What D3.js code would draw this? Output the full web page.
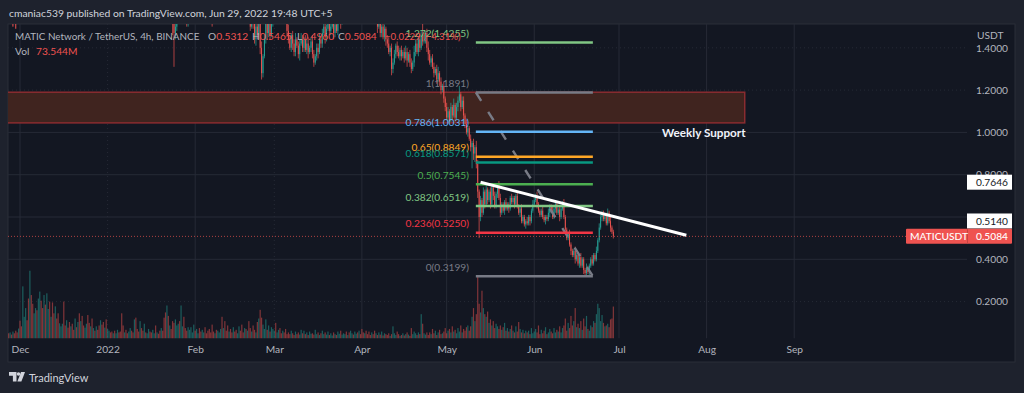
<!DOCTYPE html>
<html><head><meta charset="utf-8">
<script src="https://cdn.jsdelivr.net/npm/d3@7"></script>
<style>html,body{margin:0;padding:0;background:#1e222d;overflow:hidden}svg{display:block}text{font-family:Lato,"Open Sans",sans-serif}</style>
</head><body><svg id="c" width="1024" height="393"></svg>
<script>
const publishLine = "cmaniac539 published on TradingView.com, Jun 29, 2022 19:48 UTC+5";
const symbolName = "MATIC Network / TetherUS, 4h, BINANCE";
const ohlcLabels = ["O","H","L","C"];
const ohlcValues = ["0.5312","0.5465","0.4960","0.5084"];
const changeText = "−0.0229 (−4.31%)";
const volumeText = "73.544M";
const priceTicks = [0.2,0.4,0.6,0.8,1.0,1.2,1.4];
const monthDates = ["2021-12-01","2022-01-01","2022-02-01","2022-03-01","2022-04-01","2022-05-01","2022-06-01","2022-07-01","2022-08-01","2022-09-01"];
const monthLabels = ["Dec","2022","Feb","Mar","Apr","May","Jun","Jul","Aug","Sep"];
const fibRatios = ["1.272","1","0.786","0.65","0.618","0.5","0.382","0.236","0"];
const fibPrices = [1.4255,1.1891,1.0031,0.8849,0.8571,0.7545,0.6519,0.5250,0.3199];
const fibColors = ["#81c784","#787b86","#64b5f6","#ffa726","#089981","#4caf50","#81c784","#f23645","#787b86"];
const fibStartDate = "2022-05-11T08:00Z", fibEndDate = "2022-06-21T18:00Z";
const zonePrices = [1.19,1.045], zoneDates = ["2021-11-20","2022-08-14T12:00Z"];
const trendDates = ["2022-05-13","2022-07-24T20:00Z"], trendPrices = [0.7646,0.5140];
const lastPrice = 0.5084;
const extraWickDates = ["2021-11-28T12:00Z","2021-11-29T12:00Z"], extraWickLows = [1.50,1.49];

// 12-hour candles from 20 Jan 2022 (prices above about 1.51 run off the top of the pane)
const candleStart = "2022-01-20";
const closes = [
1.72,1.68,1.66,1.60,1.64,1.58,1.62,1.56,1.52,1.47,
1.50,1.55,1.60,1.56,1.62,1.66,1.60,1.58,1.52,1.60,
1.66,1.70,1.72,1.75,1.70,1.78,1.82,1.80,1.76,1.84,
1.88,1.84,1.80,1.78,1.72,1.70,1.66,1.62,1.64,1.58,
1.62,1.68,1.72,1.70,1.76,1.74,1.70,1.68,1.72,1.70,
1.66,1.70,1.68,1.64,1.66,1.72,1.68,1.64,1.60,1.62,
1.60,1.64,1.58,1.50,1.56,1.52,1.44,1.50,1.46,1.53,
1.40,1.28,1.36,1.44,1.52,1.47,1.56,1.46,1.52,1.58,
1.62,1.60,1.64,1.68,1.62,1.60,1.66,1.60,1.56,1.48,
1.44,1.40,1.46,1.42,1.38,1.44,1.41,1.37,1.42,1.44,
1.40,1.44,1.39,1.42,1.38,1.40,1.43,1.37,1.33,1.36,
1.40,1.38,1.44,1.42,1.47,1.50,1.45,1.49,1.52,1.48,
1.50,1.53,1.47,1.51,1.48,1.54,1.58,1.52,1.56,1.62,
1.66,1.62,1.70,1.68,1.72,1.76,1.70,1.74,1.78,1.72,
1.76,1.72,1.70,1.66,1.70,1.68,1.64,1.62,1.58,1.62,
1.58,1.54,1.56,1.50,1.53,1.47,1.50,1.45,1.49,1.44,
1.42,1.38,1.40,1.30,1.33,1.37,1.41,1.38,1.36,1.39,
1.36,1.38,1.35,1.38,1.34,1.37,1.33,1.30,1.33,1.38,
1.42,1.38,1.44,1.40,1.46,1.43,1.44,1.47,1.40,1.37,
1.33,1.35,1.31,1.28,1.30,1.25,1.28,1.24,1.20,1.22,
1.16,1.12,1.07,1.10,1.06,1.12,1.08,1.13,1.07,1.12,
1.15,1.18,1.12,1.15,1.08,1.04,1.00,1.02,0.97,0.93,
0.95,0.90,0.93,0.85,0.72,0.60,0.68,0.62,0.72,0.66,
0.73,0.68,0.72,0.66,0.74,0.70,0.65,0.71,0.75,0.69,
0.62,0.66,0.63,0.67,0.64,0.66,0.64,0.69,0.67,0.69,
0.66,0.70,0.65,0.62,0.64,0.58,0.60,0.565,0.58,0.57,
0.60,0.58,0.63,0.66,0.68,0.70,0.66,0.63,0.61,0.63,
0.60,0.585,0.60,0.59,0.62,0.65,0.63,0.60,0.64,0.66,
0.62,0.635,0.60,0.64,0.665,0.60,0.54,0.50,0.52,0.47,
0.44,0.42,0.44,0.40,0.42,0.38,0.41,0.37,0.40,0.35,
0.335,0.36,0.34,0.37,0.40,0.38,0.42,0.40,0.44,0.49,
0.55,0.60,0.62,0.59,0.61,0.57,0.62,0.58,0.55,0.53,
0.5084];
// wick lengths beyond the candle body, in hundredths of a dollar
const upperWicks = [
3,2,2,3,1,2,3,2,1,2,
2,1,2,3,2,1,2,2,3,2,
2,1,3,2,1,2,2,3,1,2,
1,2,3,2,2,1,2,3,1,2,
2,1,2,3,2,2,1,3,2,1,
2,3,1,2,2,3,2,1,2,2,
3,1,2,2,3,2,1,2,3,2,
2,3,1,2,3,2,2,1,3,2,
2,1,2,3,1,2,3,2,2,1,
3,2,1,2,2,3,1,2,2,3,
2,1,2,2,3,1,2,3,2,1,
2,2,3,1,2,2,3,2,1,2,
3,1,2,2,3,2,1,2,2,3,
1,2,2,3,2,1,2,3,2,2,
1,3,2,2,1,2,3,2,1,2,
3,2,1,2,2,3,1,2,2,1,
2,3,1,2,2,2,1,2,3,1,
2,1,2,3,2,1,2,2,1,3,
2,2,1,3,2,8,2,1,2,3,
2,1,2,2,1,2,3,1,2,1,
2,1,2,2,1,2,1,3,1,2,
2,4,1,2,2,1,2,1,1,2,
1,2,1,3,2,1,2,1,2,1,
2,1,1,2,1,1,2,1,1,2,
2,1,1,1,2,1,1,1,2,1,
1,1,2,1,1,2,1,1,1,2,
1,1,1,2,1,1,2,1,1,1,
2,1,1,1,2,1,1,2,1,1,
1,1,2,1,1,2,1,1,1,2,
1,1,1,2,1,1,1,2,1,1,
1,2,1,1,1,2,1,1,2,1,
2,1,1,1,1,1,2,1,2,1,
1];
const lowerWicks = [
2,3,1,2,2,3,1,2,6,16,
3,2,1,2,3,2,1,3,2,2,
1,2,3,1,2,2,3,1,2,2,
3,1,2,2,1,3,16,2,2,3,
1,2,2,3,1,2,2,1,3,2,
2,1,3,2,2,1,2,3,2,1,
2,3,2,2,1,3,2,3,2,2,
3,3,2,1,2,3,2,2,1,2,
3,2,1,2,2,3,1,2,2,3,
2,1,2,3,2,2,1,2,3,1,
2,2,1,2,3,1,2,2,2,1,
2,3,1,2,2,1,3,2,1,2,
2,1,3,2,1,2,2,3,1,2,
2,3,1,2,1,2,3,2,2,1,
2,1,3,2,2,1,2,1,3,2,
1,2,2,3,1,2,2,1,2,3,
2,1,2,3,2,1,2,2,1,2,
2,1,2,1,3,1,2,2,1,2,
2,1,2,2,1,2,1,2,2,3,
1,2,1,2,1,2,1,2,2,1,
2,2,1,2,1,1,2,1,2,1,
2,1,2,1,2,2,1,2,1,2,
10,3,4,2,3,10,2,2,1,2,
1,2,1,2,1,2,1,1,2,1,
2,1,1,2,1,1,2,1,1,1,
2,1,1,1,2,1,1,1,2,1,
1,2,1,1,1,1,2,1,1,1,
1,1,2,1,1,2,1,1,1,2,
1,1,2,1,1,1,2,1,1,1,
2,1,1,2,1,1,2,1,1,2,
1,1,1,2,1,1,1,1,1,1,
1,1,2,1,1,1,1,1,2,1,
1];
// 12-hour volume in millions, from 27 Nov 2021
const volumeStart = "2021-11-27";
const earlyVolumes = [
12,14,9,16,12,18,14,23,41,28,
120,50,70,42,92,156,100,80,58,70,
65,92,108,87,70,100,78,104,68,85,
50,83,58,74,46,58,35,28,34,85,
30,42,25,38,28,34,20,46,26,38,
58,40,52,30,25,34,54,36,28,46,
24,18,28,20,30,42,32,38,25,44,
22,18,14,16,12,18,12,20,14,16,
58,30,14,20,12,16,24,18,14,44,
48,22,16,40,24,18,34,14,12,22,
16,14,20,12,30,14,11,18];
const earlyVolumeSides = "dududddudd"+"uuuddudduu"+"duudduduud"+"uddudduuud"+"dudduddudu"+"dudduuddud"+"ududduddud"+"uudduduudd"+"ddudduuddu"+"dddudduduu"+"dduududd";
const candleVolumes = [
24,18,48,60,76,52,30,22,40,36,
44,30,34,40,76,28,50,24,18,26,
20,26,14,32,18,22,12,24,16,20,
14,26,12,18,22,14,32,16,12,20,
18,14,22,50,24,40,18,30,16,22,
14,26,16,20,12,28,18,32,14,24,
22,18,40,24,16,30,20,14,38,46,
66,48,32,22,44,20,30,16,26,22,
18,36,14,20,24,12,18,14,22,10,
14,10,18,12,8,16,10,14,9,20,
12,18,10,14,8,16,11,12,9,20,
10,14,8,12,18,10,14,9,16,8,
12,7,14,10,8,16,11,18,9,12,
10,16,8,14,18,12,9,16,11,14,
18,10,22,14,12,18,10,16,8,14,
10,18,12,8,14,9,16,7,12,10,
8,12,6,10,28,12,8,16,10,6,
8,12,7,10,14,9,6,24,10,16,
12,8,14,10,56,34,12,9,14,8,
14,10,22,12,18,8,14,20,10,12,
16,24,12,18,22,14,28,16,20,12,
24,16,30,14,22,18,26,30,18,28,
50,70,40,56,146,80,60,110,70,56,
50,62,36,44,30,40,24,34,28,22,
30,20,26,36,18,24,16,22,30,18,
14,28,16,38,22,14,20,12,18,14,
18,10,24,12,16,22,14,30,10,20,
12,18,26,10,14,22,16,12,24,14,
20,16,28,14,24,30,46,18,36,24,
52,30,40,70,26,34,24,40,20,46,
28,52,22,18,30,26,40,36,56,80,
70,40,54,36,28,30,34,26,44,46,
73.544];

const svg = d3.select("#c");
const BG = "#131722", TXT = "#b2b5be", UP = "#26a69a", DOWN = "#ef5350";
const L = 8, R = 1015, T = 24, B = 362, AX = 967, BASE = 338.5;
const FS = 10.2;

const x = d3.scaleUtc().domain([new Date("2021-12-01"), new Date("2022-07-01")]).range([20, 619]);
const y = d3.scaleLinear().domain([0.2, 1.4]).range([301.6, 47.8]);
const yv = d3.scaleLinear().domain([0, 145]).range([BASE, BASE - 63]);

svg.append("rect").attr("width",1024).attr("height",393).attr("fill","#1e222d");
svg.append("rect").attr("x",L).attr("y",T).attr("width",R-L).attr("height",B-T).attr("fill",BG).attr("stroke","#2a2e39").attr("stroke-width",1);
svg.append("defs").append("clipPath").attr("id","plot").append("rect").attr("x",L).attr("y",T).attr("width",AX-L).attr("height",BASE-T);
const plot = svg.append("g").attr("clip-path","url(#plot)");

// grid
const dottedPrices = [0.2,1.2,1.4], dottedMonths = ["2022","Mar"];
plot.selectAll(".gy").data(priceTicks).join("line").attr("x1",L).attr("x2",AX).attr("y1",d=>y(d)).attr("y2",d=>y(d))
  .attr("stroke","#262a36").attr("stroke-dasharray",d=>dottedPrices.includes(d)?"1 3":null);
plot.selectAll(".gx").data(monthDates).join("line").attr("x1",d=>x(new Date(d))).attr("x2",d=>x(new Date(d))).attr("y1",T).attr("y2",BASE)
  .attr("stroke","#262a36").attr("stroke-dasharray",(d,i)=>dottedMonths.includes(monthLabels[i])?"1 3":null);

// resistance zone
plot.append("rect").attr("x",x(new Date(zoneDates[0]))).attr("width",x(new Date(zoneDates[1]))-x(new Date(zoneDates[0])))
  .attr("y",y(zonePrices[0])).attr("height",y(zonePrices[1])-y(zonePrices[0]))
  .attr("fill","#40241f").attr("stroke","#8a2c30").attr("stroke-width",1.5);

// volume
const earlyBars = earlyVolumes.map((v,i)=>({t:d3.utcHour.offset(new Date(volumeStart),12*i),v,up:earlySide(i)}));
function earlySide(i){return earlyVolumeSides[i]==="u";}
const candles = closes.map((c,i)=>{
  const o = i?closes[i-1]:c;
  return {t:d3.utcHour.offset(new Date(candleStart),12*i),o,c,h:Math.max(o,c)+upperWicks[i]/100,l:Math.min(o,c)-lowerWicks[i]/100,v:candleVolumes[i],up:c>=o};
});
plot.selectAll(".v").data(earlyBars.concat(candles)).join("rect")
  .attr("x",d=>x(d.t)-0.6).attr("width",1.2).attr("y",d=>yv(d.v)).attr("height",d=>BASE-yv(d.v))
  .attr("fill",d=>d.up?UP:DOWN).attr("fill-opacity",0.5);

// candles
plot.selectAll(".xw").data(extraWickDates).join("line").attr("x1",d=>x(new Date(d))).attr("x2",d=>x(new Date(d)))
  .attr("y1",T).attr("y2",(d,i)=>y(extraWickLows[i])).attr("stroke",DOWN);
plot.selectAll(".w").data(candles).join("line").attr("x1",d=>x(d.t)).attr("x2",d=>x(d.t)).attr("y1",d=>y(d.h)).attr("y2",d=>y(d.l))
  .attr("stroke",d=>d.up?UP:DOWN).attr("stroke-width",0.7);
plot.selectAll(".b").data(candles).join("rect").attr("x",d=>x(d.t)-0.45).attr("width",0.9)
  .attr("y",d=>y(Math.max(d.o,d.c))).attr("height",d=>Math.max(0.7,Math.abs(y(d.o)-y(d.c))))
  .attr("fill",d=>d.up?UP:DOWN);

// last price line
plot.append("line").attr("x1",L).attr("x2",AX).attr("y1",y(lastPrice)).attr("y2",y(lastPrice)).attr("stroke","#ef5350").attr("stroke-opacity",0.7).attr("stroke-dasharray","1 2");

// fib retracement
const fx0 = x(new Date(fibStartDate)), fx1 = x(new Date(fibEndDate));
plot.append("line").attr("x1",fx0).attr("x2",fx1).attr("y1",y(fibPrices[1])).attr("y2",y(fibPrices[8]))
  .attr("stroke","#787b86").attr("stroke-width",2.4).attr("stroke-dasharray","10 13");
plot.selectAll(".f").data(fibPrices).join("line").attr("x1",fx0).attr("x2",fx1).attr("y1",d=>y(d)).attr("y2",d=>y(d))
  .attr("stroke",(d,i)=>fibColors[i]).attr("stroke-width",2.5);
svg.selectAll(".ft").data(fibPrices).join("text").attr("x",469).attr("y",d=>y(d)-5.5).attr("text-anchor","end")
  .attr("font-size",FS).attr("fill",(d,i)=>fibColors[i]).text((d,i)=>`${fibRatios[i]}(${d.toFixed(4)})`);

// trend line and note
plot.append("line").attr("x1",x(new Date(trendDates[0]))).attr("x2",x(new Date(trendDates[1])))
  .attr("y1",y(trendPrices[0])).attr("y2",y(trendPrices[1])).attr("stroke","#fff").attr("stroke-width",3);
svg.append("text").attr("x",662).attr("y",137).attr("font-size",11.7).attr("font-weight",700).attr("fill","#f0f3fa").text("Weekly Support");

// axes
const yAxis = d3.axisRight(y).tickValues(priceTicks).tickFormat(d3.format(".4f")).tickSize(0).tickPadding(0);
const ga = svg.append("g").attr("transform",`translate(976,0)`).call(yAxis);
ga.select(".domain").remove();
ga.selectAll("text").attr("font-size",FS).attr("fill",TXT).style("font-family","Lato,sans-serif");
const xAxis = d3.axisBottom(x).tickValues(monthDates.map(d=>new Date(d))).tickFormat((d,i)=>monthLabels[i]).tickSize(0).tickPadding(0);
const gx = svg.append("g").attr("transform",`translate(0,346)`).call(xAxis);
gx.select(".domain").remove();
gx.selectAll("text").attr("font-size",FS).attr("fill",TXT).style("font-family","Lato,sans-serif");

// axis cap and price tags
svg.append("rect").attr("x",AX+2).attr("y",T+1).attr("width",R-AX-3).attr("height",20).attr("fill",BG);
svg.append("text").attr("x",977).attr("y",38.5).attr("font-size",FS).attr("fill",TXT).text("USDT");
function tag(cy,val){
  svg.append("rect").attr("x",AX).attr("y",cy-7.5).attr("width",45).attr("height",15).attr("fill","#fff");
  svg.append("text").attr("x",976).attr("y",cy+3.6).attr("font-size",FS).attr("fill","#131722").text(val);
}
tag(y(trendPrices[0]),trendPrices[0].toFixed(4));
const tagShift = 14.2;
tag(y(trendPrices[1])-tagShift,trendPrices[1].toFixed(4));
const ly = y(lastPrice);
svg.append("rect").attr("x",906).attr("y",ly-7.5).attr("width",106).attr("height",15).attr("fill",DOWN).attr("rx",1);
svg.append("line").attr("x1",967.5).attr("x2",967.5).attr("y1",ly-7.5).attr("y2",ly+7.5).attr("stroke","#c44543");
svg.append("text").attr("x",910).attr("y",ly+3.6).attr("font-size",10.2).attr("fill","#fff").attr("font-weight",500).text("MATICUSDT");
svg.append("text").attr("x",976).attr("y",ly+3.6).attr("font-size",FS).attr("fill","#fff").attr("font-weight",500).text(lastPrice.toFixed(4));

// title and legend
svg.append("text").attr("x",9).attr("y",17).attr("font-size",10.35).attr("fill","#d1d4dc").text(publishLine);
svg.append("text").attr("x",15).attr("y",40).attr("font-size",9.9).attr("fill",TXT).text(symbolName);
const ohlcX = [208,252,297,338];
ohlcLabels.forEach((l,i)=>{
  const t = svg.append("text").attr("x",ohlcX[i]).attr("y",40).attr("font-size",FS).attr("fill",TXT).text(l);
  t.append("tspan").attr("fill",DOWN).text(ohlcValues[i]);
});
svg.append("text").attr("x",385).attr("y",40).attr("font-size",9.6).attr("fill",DOWN).text(changeText);
svg.append("text").attr("x",15).attr("y",55).attr("font-size",FS).attr("fill",TXT).text("Vol");
svg.append("text").attr("x",36).attr("y",55).attr("font-size",FS).attr("fill",DOWN).text(volumeText);

// TradingView mark
const logo = svg.append("g").attr("fill","#d1d4dc");
logo.append("path").attr("d","M9 372h7.5v9.5h-3.6v-5.8H9z");
logo.append("circle").attr("cx",18.5).attr("cy",374).attr("r",1.8);
logo.append("path").attr("d","M21 372h4l-3.6 9.5h-4z");
svg.append("text").attr("x",29).attr("y",382).attr("font-size",11).attr("fill","#d1d4dc").text("TradingView");
</script></body></html>
